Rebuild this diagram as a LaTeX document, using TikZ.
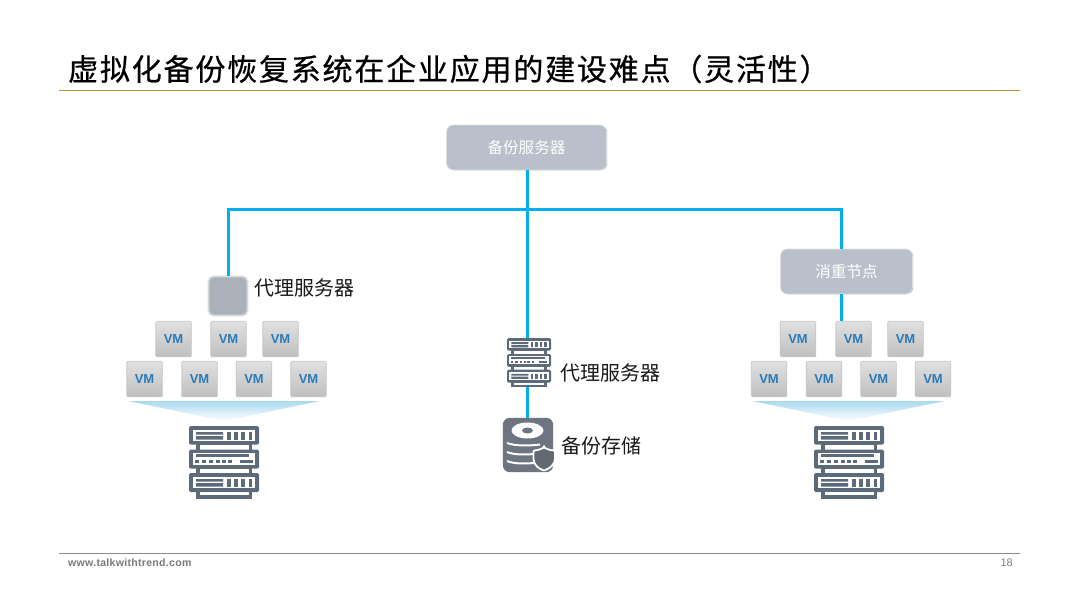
\documentclass[tikz,border=0pt]{standalone}
\usepackage{fontspec}
\setmainfont{Liberation Sans}
\newfontfamily\cjk{Noto Sans CJK SC}
\newfontfamily\cjkt[LetterSpace=6,FakeBold=0.6]{Noto Sans CJK SC}
\newfontfamily\webf[LetterSpace=2.5]{Liberation Sans}
\usetikzlibrary{calc}
\definecolor{iconc}{HTML}{5C6A7A}
\definecolor{linkc}{HTML}{00B0EE}
\definecolor{boxc}{HTML}{B9C0CB}
\definecolor{vmc}{HTML}{2A7AB8}
\definecolor{goldc}{HTML}{B8923F}
\definecolor{diskc}{HTML}{6E7580}
\definecolor{funnelc}{HTML}{ABD9EF}
\newcommand{\rackicon}[4]{%
\begin{scope}[shift={(#1,#2)},x=#3pt,y=-#4pt]
 \fill[iconc,rounded corners=1.5pt] (0,0) rectangle (70,18.7);
 \fill[white] (3.7,3.7) rectangle (66.3,15);
 \fill[iconc] (7,6) rectangle (34,8.7) (7,10.2) rectangle (34,13.7);
 \foreach \q in {38,45,52,59.5}{\fill[iconc] (\q,5.7) rectangle ++(3.5,8);}
 \fill[iconc] (7,18) rectangle (63,24);
 \fill[white] (10.5,18.7) rectangle (59.5,23.7);
 \fill[iconc,rounded corners=1.5pt] (0,23.7) rectangle (70,42.7);
 \fill[white] (3.7,27.4) rectangle (66.3,39);
 \fill[iconc] (7,28.3) rectangle (60,31.3);
 \foreach \q in {6,13,20,26.5,32.5,39}{\fill[iconc] (\q,34) rectangle ++(4.3,3.3);}
 \fill[iconc] (51,34) rectangle (64,37.3);
 \fill[iconc] (7,42) rectangle (63,48);
 \fill[white] (10.5,42.7) rectangle (59.5,47);
 \fill[iconc,rounded corners=1.5pt] (0,47) rectangle (70,66);
 \fill[white] (3.7,50.7) rectangle (66.3,62.3);
 \fill[iconc] (7,53) rectangle (34,55.7) (7,57.2) rectangle (34,60.7);
 \foreach \q in {38,45,52,59.5}{\fill[iconc] (\q,52.7) rectangle ++(3.5,8);}
 \fill[iconc] (7,65.5) rectangle (63,72.5);
 \fill[white] (10.5,66) rectangle (59.5,69);
\end{scope}}
\tikzset{
 link/.style={draw=linkc,line width=3pt},
 vmbox/.style={draw=black!22,line width=.7pt,rounded corners=1pt,top color=black!12,bottom color=black!25,
   minimum width=35.5pt,minimum height=35.5pt,inner sep=0pt,text=vmc,font=\bfseries\fontsize{13}{14}\selectfont},
 srv/.style={fill=boxc,draw=black!13,line width=.7pt,rounded corners=7pt,text=white,inner sep=0pt,font=\cjk\fontsize{15.6}{18}\selectfont},
 lbl/.style={inner sep=0pt,anchor=west,text=black!90,font=\cjk\fontsize{20}{24}\selectfont},
 slot/.style={inner sep=0pt},
 funnel/.style={top color=funnelc,bottom color=white,draw=none}
}
\begin{document}
\begin{tikzpicture}[x=1pt,y=-1pt]
\useasboundingbox (0,0) rectangle (1080,608);
\fill[white] (0,0) rectangle (1080,608);
% header and footer
\node[inner sep=0pt,anchor=west,text=black,font=\cjkt\fontsize{30}{36}\selectfont] (title) at (68,69) {虚拟化备份恢复系统在企业应用的建设难点（灵活性）};
\coordinate (hl) at (59,90.5); \coordinate (hr) at (1020,90.5);
\draw[goldc,line width=1.4pt] (hl) -- (hr);
\coordinate (fl) at (59,553.5); \coordinate (fr) at (1020,553.5);
\draw[black!45,line width=.7pt] (fl) -- (fr);
\node[inner sep=0pt,anchor=west,text=black!52,font=\webf\bfseries\fontsize{10.6}{12}\selectfont] (web) at (68,563) {www.talkwithtrend.com};
\node[inner sep=0pt,anchor=east,text=black!50,font=\fontsize{11}{13}\selectfont] (page) at (1013,562.5) {18};
% nodes
\fill[black!38,rounded corners=7pt] (447,125.5) rectangle (607.2,170.2);
\node[srv,minimum width=160pt,minimum height=45pt] (backup) at (526.5,147.5) {备份服务器};
\fill[black!38,rounded corners=7pt] (781,249.5) rectangle (913.2,294.2);
\node[srv,minimum width=132pt,minimum height=45pt] (dedup) at (846.5,271.5) {消重节点};
\node[fill=boxc!92!black,draw=black!15,line width=1.6pt,rounded corners=5pt,minimum width=39pt,minimum height=39pt,inner sep=0pt] (proxyL) at (228,296) {};
\node[slot,minimum width=44pt,minimum height=49pt] (proxyM) at (529,362.5) {};
\node[slot,minimum width=50pt,minimum height=54pt] (disk) at (528,445) {};
\node[slot,minimum width=70pt,minimum height=72pt] (rackL) at (224,462) {};
\node[slot,minimum width=70pt,minimum height=72pt] (rackR) at (849,462) {};
% VMs left
\foreach \n/\px/\py in {a/173.5/339,b/228.5/339,c/280.5/339,d/144.5/379,e/199.5/379,f/254/379,g/308.5/379}
  {\node[vmbox] (L\n) at (\px,\py) {VM};}
% VMs right
\foreach \n/\px/\py in {a/798/339,b/853.5/339,c/905.5/339,d/769/379,e/824/379,f/878.5/379,g/933/379}
  {\node[vmbox] (R\n) at (\px,\py) {VM};}
% funnels
\coordinate (fa) at (128,401); \coordinate (fb) at (320,401); \coordinate (fc) at (224,421);
\shade[funnel] (fa) -- (fb) -- (fc) -- cycle;
\coordinate (ga) at (752,401); \coordinate (gb) at (945,401); \coordinate (gc) at (848,421);
\shade[funnel] (ga) -- (gb) -- (gc) -- cycle;
% connectors
\coordinate (bus) at (527.5,209);
\coordinate (busL) at (228.5,209);
\coordinate (busR) at (841.5,209);
\draw[link] (backup.south -| bus) -- (bus |- proxyM.north);
\draw[link] (proxyL.north -| busL) -- (busL) -- (busR) -- (busR |- dedup.north);
\draw[link] (busR |- dedup.south) -- (busR |- Rb.north);
\draw[link] (bus |- proxyM.south) -- (bus |- disk.north);
% rack icons
\rackicon{189}{426}{1}{1}
\rackicon{814}{426}{1}{1}
\rackicon{507}{338}{.63}{.675}
% disk icon
\fill[diskc,rounded corners=7pt] (disk.south west) rectangle (disk.north east);
\fill[white] (527.5,430.5) ellipse [x radius=16pt,y radius=8pt];
\fill[diskc] (527.5,430.5) ellipse [x radius=5.5pt,y radius=3pt];
\draw[white,line width=2pt] (507,443) .. controls (515,446) and (528,446) .. (540,444.5);
\draw[white,line width=2pt] (507,452) .. controls (513,454.5) and (522,455) .. (534,454);
\draw[white,line width=2pt] (507,461) .. controls (513,463.5) and (522,464) .. (534,463);
\fill[diskc!90!black,draw=white,line width=1.8pt,rounded corners=1pt] (544,447.5) .. controls (539,450) and (536,450.5) .. (533.5,450.5) -- (533.5,458) .. controls (533.5,464) and (538,468.5) .. (544,470.5) .. controls (550,468.5) and (555,464) .. (555,458) -- (555,450.5) .. controls (552,450.5) and (549,450) .. (544,447.5) -- cycle;
% labels
\node[lbl] (t1) at (254,288) {代理服务器};
\node[lbl] (t2) at (560,373) {代理服务器};
\node[lbl] (t3) at (561.5,446) {备份存储};
\end{tikzpicture}
\end{document}
